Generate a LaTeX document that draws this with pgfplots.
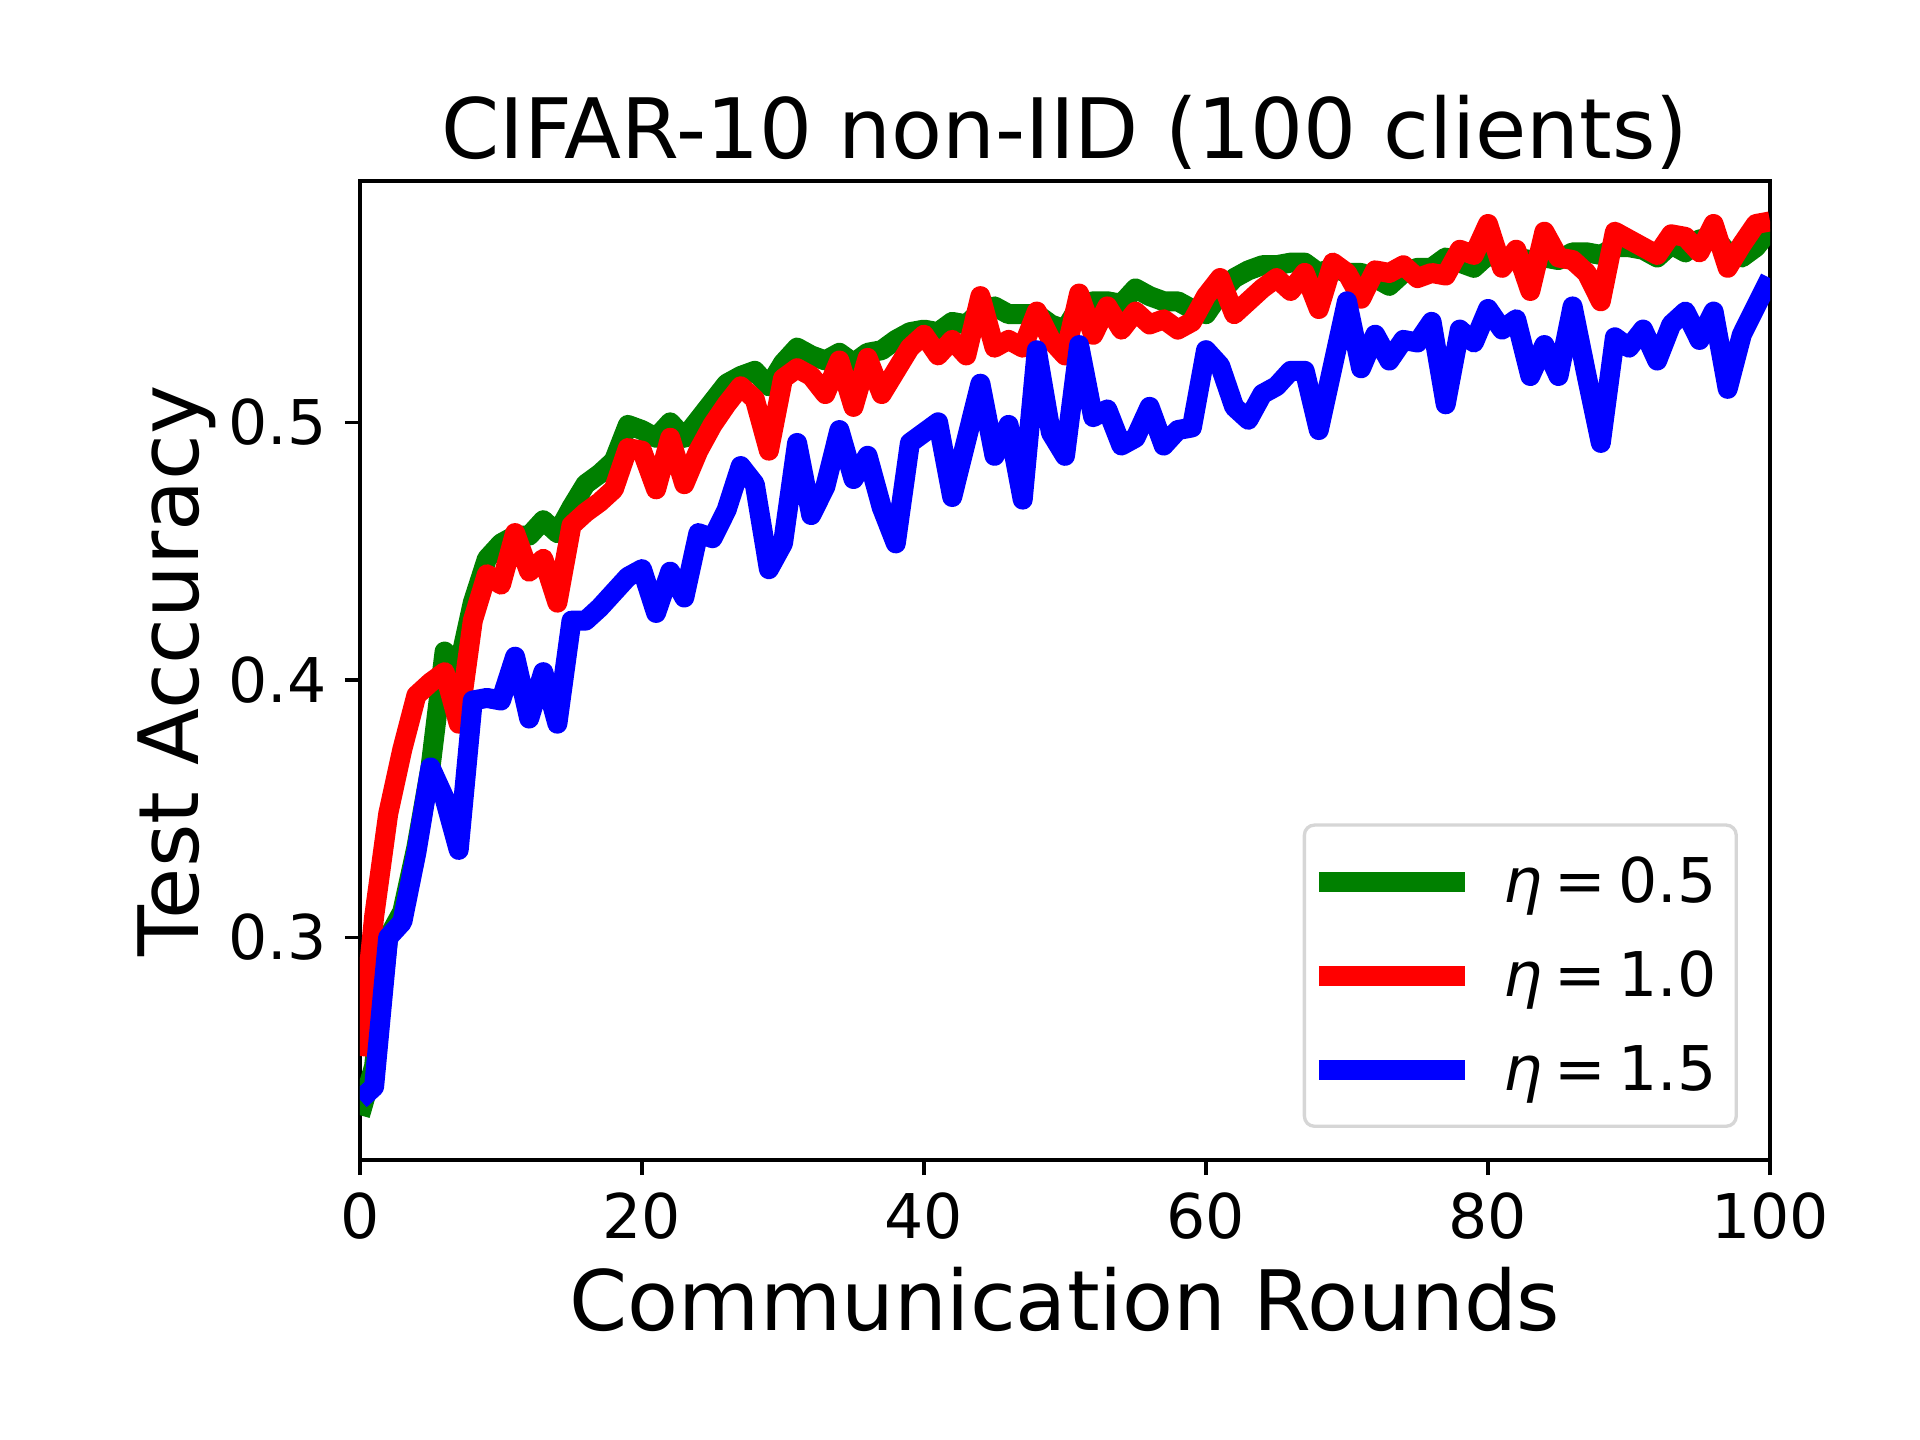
\documentclass[border=0pt]{standalone}
\usepackage{fontspec}
\setmainfont{DejaVu Sans}
\usepackage{pgfplots}
\pgfplotsset{compat=1.18}
\definecolor{mgreen}{rgb}{0,0.5,0}
\definecolor{legendgray}{RGB}{214,214,214}
\pgfplotstableread{
x g r b
0 0.231 0.254 0.237
1 0.250 0.308 0.242
2 0.300 0.348 0.300
3 0.310 0.373 0.306
4 0.335 0.394 0.333
5 0.366 0.399 0.366
6 0.411 0.403 0.354
7 0.405 0.383 0.334
8 0.430 0.423 0.392
9 0.447 0.441 0.393
10 0.453 0.437 0.392
11 0.456 0.457 0.409
12 0.456 0.442 0.385
13 0.462 0.447 0.403
14 0.457 0.430 0.383
15 0.467 0.460 0.423
16 0.476 0.465 0.423
17 0.480 0.469 0.428
18 0.485 0.474 0.434
19 0.499 0.490 0.440
20 0.497 0.489 0.443
21 0.494 0.474 0.426
22 0.500 0.494 0.442
23 0.494 0.476 0.432
24 0.501 0.489 0.457
25 0.508 0.499 0.455
26 0.515 0.507 0.466
27 0.518 0.514 0.483
28 0.520 0.509 0.476
29 0.514 0.489 0.443
30 0.523 0.517 0.453
31 0.529 0.521 0.492
32 0.526 0.518 0.464
33 0.524 0.511 0.475
34 0.527 0.524 0.497
35 0.523 0.506 0.478
36 0.527 0.525 0.487
37 0.528 0.511 0.467
38 0.532 0.520 0.453
39 0.535 0.529 0.492
40 0.536 0.534 0.496
41 0.535 0.526 0.500
42 0.539 0.532 0.471
43 0.538 0.526 0.493
44 0.543 0.549 0.515
45 0.545 0.529 0.487
46 0.542 0.532 0.499
47 0.542 0.529 0.470
48 0.542 0.543 0.528
49 0.538 0.532 0.496
50 0.536 0.526 0.487
51 0.545 0.550 0.530
52 0.547 0.534 0.502
53 0.547 0.545 0.505
54 0.546 0.536 0.491
55 0.552 0.543 0.494
56 0.549 0.538 0.506
57 0.547 0.540 0.491
58 0.547 0.536 0.497
59 0.544 0.539 0.498
60 0.542 0.549 0.528
61 0.550 0.556 0.522
62 0.556 0.542 0.506
63 0.559 0.547 0.501
64 0.561 0.552 0.511
65 0.561 0.556 0.514
66 0.562 0.551 0.520
67 0.562 0.558 0.520
68 0.558 0.544 0.497
69 0.560 0.562 0.522
70 0.558 0.558 0.547
71 0.558 0.548 0.521
72 0.556 0.559 0.534
73 0.553 0.558 0.524
74 0.558 0.561 0.532
75 0.560 0.556 0.531
76 0.560 0.558 0.539
77 0.564 0.557 0.507
78 0.562 0.567 0.536
79 0.560 0.565 0.531
80 0.565 0.577 0.544
81 0.563 0.560 0.536
82 0.564 0.567 0.540
83 0.563 0.551 0.518
84 0.564 0.574 0.530
85 0.563 0.564 0.518
86 0.566 0.563 0.545
87 0.566 0.558 0.518
88 0.565 0.547 0.492
89 0.568 0.574 0.533
90 0.568 0.571 0.529
91 0.567 0.568 0.536
92 0.564 0.565 0.524
93 0.569 0.573 0.538
94 0.566 0.572 0.543
95 0.571 0.566 0.532
96 0.572 0.577 0.543
97 0.566 0.560 0.513
98 0.564 0.569 0.534
99 0.568 0.577 0.545
100 0.575 0.578 0.556
}\datatable
\begin{document}
\begin{tikzpicture}
\begin{axis}[
  at={(0,0)}, anchor=south west, scale only axis,
  width=338.4pt, height=234.96pt,
  xmin=0, xmax=100, ymin=0.2136, ymax=0.5937,
  xtick={0,20,40,60,80,100}, xticklabels={0,20,40,60,80,100},
  ytick={0.3,0.4,0.5}, yticklabels={0.3,0.4,0.5},
  tick align=outside, tick pos=left,
  major tick length=3.6pt,
  tick style={black, line width=0.8pt},
  axis line style={black, line width=0.8pt},
  xticklabel style={anchor=north, inner sep=0pt, yshift=-4pt, font=\fontsize{14.8}{17.8}\selectfont},
  yticklabel style={anchor=east, inner sep=0pt, xshift=-4.2pt, font=\fontsize{14.8}{17.8}\selectfont},
  title={CIFAR-10 non-IID (100 clients)},
  title style={at={(axis description cs:0.5,1)}, anchor=base, yshift=-0.5pt, inner sep=0pt, font=\fontsize{20}{24}\selectfont},
  xlabel={Communication Rounds},
  xlabel style={at={(axis description cs:0.5,0)}, anchor=base, yshift=-40.8pt, inner sep=0pt, font=\fontsize{20}{24}\selectfont},
  ylabel={Test Accuracy},
  ylabel style={at={(axis description cs:-0.11466,0.5)}, anchor=base, inner sep=0pt, font=\fontsize{20}{24}\selectfont},
  legend cell align=left,
  legend image code/.code={\draw[#1, line cap=butt, line join=miter] (0pt,0pt) -- (35pt,0pt);},
  legend style={at={(axis description cs:1,0)}, anchor=south east, xshift=-7.7pt, yshift=7.7pt,
    draw=legendgray, line width=0.8pt, rounded corners=2.4pt, fill=white,
    inner xsep=1.1pt, inner ysep=2.3pt, row sep=0pt, column sep=7.0pt,
    nodes={inner sep=0pt, text height=16.24pt, text depth=6.32pt},
    font=\fontsize{14.8}{17.8}\selectfont},
]
\addplot[mgreen, line width=4.8pt, line join=round] table[x=x, y=g] {\datatable};
\addlegendentry{{\itshape η}\hspace{0.19em}=\hspace{0.19em}0.5\kern3.7pt}
\addplot[red, line width=4.8pt, line join=round] table[x=x, y=r] {\datatable};
\addlegendentry{{\itshape η}\hspace{0.19em}=\hspace{0.19em}1.0\kern3.7pt}
\addplot[blue, line width=4.8pt, line join=round] table[x=x, y=b] {\datatable};
\addlegendentry{{\itshape η}\hspace{0.19em}=\hspace{0.19em}1.5\kern3.7pt}
\end{axis}
\pgfresetboundingbox
\path[use as bounding box] (-86.4pt,-67.2pt) rectangle (374.4pt,278.4pt);
\end{tikzpicture}
\end{document}
